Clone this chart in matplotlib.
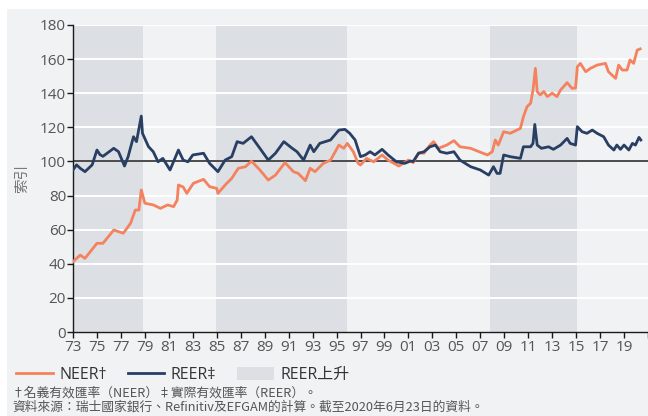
import matplotlib
matplotlib.use("Agg")
import matplotlib.pyplot as plt
from matplotlib.patches import Rectangle, Patch
from matplotlib.lines import Line2D
import numpy as np

neer_t = [1973.0, 1973.6, 1974.0, 1975.0, 1975.5, 1976.4, 1977.2, 1977.8, 1978.2, 1978.5, 1978.7, 1979.0,
          1979.7, 1980.3, 1980.9, 1981.4, 1981.7, 1981.8, 1982.2, 1982.5, 1983.05, 1983.9, 1984.4, 1985.0,
          1985.1, 1985.7, 1986.25, 1986.8, 1987.4, 1987.9, 1988.6, 1989.3, 1989.9, 1990.7, 1991.4, 1991.8,
          1992.4, 1992.8, 1993.2, 1993.9, 1994.5, 1995.2, 1995.6, 1995.9, 1996.4, 1996.8, 1997.0, 1997.5,
          1998.1, 1998.8, 1999.3, 2000.2, 2001.0, 2001.4, 2001.85, 2002.3, 2002.8, 2003.1, 2003.5, 2004.2,
          2004.8, 2005.3, 2006.2, 2006.9, 2007.6, 2008.0, 2008.25, 2008.5, 2008.95, 2009.5, 2010.35, 2010.6,
          2010.9, 2011.2, 2011.4, 2011.6, 2011.75, 2012.0, 2012.3, 2012.6, 2013.0, 2013.4, 2013.7, 2014.25,
          2014.65, 2014.95, 2015.1, 2015.35, 2015.8, 2016.2, 2016.75, 2017.45, 2017.7, 2018.0, 2018.3, 2018.55,
          2018.85, 2019.25, 2019.5, 2019.8, 2020.1, 2020.35]
neer_v = [41.2, 45.1, 43.2, 52.0, 52.0, 59.8, 57.9, 63.7, 71.5, 71.5, 83.3, 75.5,
          74.5, 72.5, 74.5, 73.5, 77.4, 86.2, 85.0, 81.3, 87.2, 89.5, 85.2, 84.2,
          81.3, 86.2, 90.1, 96.0, 96.9, 100.2, 95.0, 89.1, 92.0, 99.3, 94.0, 93.0,
          88.7, 96.0, 94.0, 98.9, 100.8, 109.6, 107.7, 110.6, 105.7, 98.9, 97.9, 101.8,
          99.8, 103.8, 100.8, 97.3, 100.8, 99.3, 105.1, 104.8, 109.6, 111.6, 107.7, 109.6,
          112.2, 108.6, 107.7, 105.7, 103.8, 105.7, 112.6, 109.6, 117.4, 116.5, 119.4, 126.2,
          132.1, 134.1, 141.9, 154.6, 140.9, 139.0, 141.0, 138.0, 140.0, 138.0, 141.9, 146.2,
          142.9, 143.0, 155.5, 157.5, 152.6, 154.6, 156.5, 157.5, 152.6, 150.6, 148.7, 156.5,
          153.6, 153.6, 159.5, 157.5, 165.3, 166.0]

reer_t = [1973.0, 1973.3, 1973.6, 1974.0, 1974.6, 1975.0, 1975.25, 1975.5, 1976.4, 1976.8, 1977.3, 1977.6,
          1978.05, 1978.3, 1978.7, 1978.8, 1979.3, 1979.7, 1980.1, 1980.5, 1981.1, 1981.8, 1982.2, 1982.6,
          1983.0, 1983.9, 1984.4, 1985.1, 1985.7, 1986.25, 1986.7, 1987.2, 1987.9, 1988.6, 1989.3, 1989.9,
          1990.6, 1991.3, 1991.7, 1992.25, 1992.8, 1993.1, 1993.6, 1994.5, 1995.2, 1995.7, 1996.1, 1996.55,
          1997.0, 1997.4, 1997.8, 1998.2, 1998.8, 1999.3, 2000.0, 2000.7, 2001.15, 2001.4, 2001.85, 2002.3,
          2002.8, 2003.25, 2003.65, 2004.2, 2004.8, 2005.3, 2006.2, 2007.0, 2007.7, 2008.1, 2008.4, 2008.65,
          2008.95, 2009.5, 2010.35, 2010.6, 2011.2, 2011.4, 2011.55, 2011.75, 2012.1, 2012.7, 2013.1, 2013.7,
          2014.25, 2014.5, 2014.95, 2015.1, 2015.5, 2015.9, 2016.35, 2016.75, 2017.3, 2017.7, 2018.15, 2018.4,
          2018.7, 2019.0, 2019.4, 2019.7, 2019.95, 2020.25, 2020.4]
reer_v = [95.0, 98.0, 96.0, 94.0, 98.0, 106.7, 104.0, 103.0, 107.7, 105.7, 97.3, 102.8,
          114.5, 111.6, 126.6, 116.5, 108.7, 105.7, 99.8, 101.8, 95.0, 106.7, 100.8, 99.8,
          103.8, 104.8, 98.9, 94.0, 100.8, 102.8, 111.6, 110.6, 114.5, 107.7, 100.8, 104.8,
          111.6, 107.7, 105.7, 100.8, 109.6, 105.7, 110.6, 112.6, 118.4, 118.8, 116.5, 112.6,
          102.8, 103.8, 105.7, 103.8, 107.1, 103.8, 99.8, 98.9, 100.2, 100.0, 104.8, 105.7,
          108.6, 109.6, 105.7, 104.8, 105.7, 100.8, 96.9, 95.0, 92.0, 96.9, 93.0, 93.0,
          103.8, 102.8, 101.8, 108.6, 108.6, 110.6, 121.7, 109.6, 107.7, 108.6, 107.1, 109.6,
          113.5, 110.6, 109.6, 120.4, 117.4, 116.5, 118.4, 116.5, 114.5, 109.6, 106.7, 109.6,
          107.1, 109.6, 106.7, 110.6, 109.6, 114.1, 112.6]

shade_periods = [(1973.0, 1978.85), (1984.95, 1995.9), (2007.8, 2015.1)]
years = list(range(1973, 2022, 2))
tick_labels = [f"{y % 100:02d}" for y in years[:-1]] + [""]

NEER_C = "#f4825e"
REER_C = "#283f63"
BG = "#f0f2f4"
SHADE = "#dce0e4"

plt.rcParams['font.family'] = ['Open Sans', 'Noto Sans CJK TC', 'DejaVu Sans']
cjk = ['Noto Sans CJK TC', 'DejaVu Sans']

fig = plt.figure(figsize=(6.48, 4.16), dpi=100)
fig.patch.set_facecolor("white")
fig.patches.append(Rectangle((7/648, 0), 641/648, 1 - 9/416, transform=fig.transFigure,
                             facecolor=BG, edgecolor="none", zorder=-10))

ax = fig.add_axes([73/648, 1 - 332/416, 575/648, 307/416])
ax.set_facecolor(BG)
for a, b in shade_periods:
    ax.axvspan(a, b, color=SHADE, lw=0, zorder=0)
for yv in range(20, 181, 20):
    ax.axhline(yv, color="white", lw=1.4, zorder=1)
ax.axhline(100, color="#1a1a1a", lw=1.1, zorder=2)

ax.plot(neer_t, neer_v, color=NEER_C, lw=2.0, zorder=3)
ax.plot(reer_t, reer_v, color=REER_C, lw=2.0, zorder=4)

ax.set_xlim(1973, 2021)
ax.set_ylim(0, 180)
ax.set_yticks(range(0, 181, 20))
ax.set_xticks(years)
ax.set_xticklabels(tick_labels)
for s in ["top", "right"]:
    ax.spines[s].set_visible(False)
for s in ["left", "bottom"]:
    ax.spines[s].set_color("#1a1a1a")
    ax.spines[s].set_linewidth(1.0)
ax.tick_params(axis="both", direction="out", length=4, width=1, color="#1a1a1a",
               labelcolor="#555555", labelsize=11, pad=1)
ax.tick_params(axis="x", pad=2)

ax.set_ylabel("索引", family=cjk, color="#777777", fontsize=10.5, labelpad=8)

handles = [Line2D([], [], color=NEER_C, lw=2), Line2D([], [], color=REER_C, lw=2),
           Patch(facecolor=SHADE, edgecolor="none")]
fig.legend(handles, ["NEER†", "REER‡", "REER上升"], loc="center left",
           bbox_to_anchor=(16/648, 1 - 375/416), ncol=3, frameon=False,
           borderpad=0, borderaxespad=0,
           prop={'family': ['Open Sans', 'Noto Sans CJK TC'], 'size': 11.5},
           handlelength=2.3, handleheight=0.8, columnspacing=1.3, handletextpad=0.4,
           labelcolor="#333333")

fig.text(12/648, 1 - 393/416, "†名義有效匯率（NEER）‡實際有效匯率（REER）。", family=cjk,
         fontsize=9.2, color="#555555", va="center")
fig.text(12/648, 1 - 407.5/416, "資料來源：瑞士國家銀行、Refinitiv及EFGAM的計算。截至2020年6月23日的資料。",
         family=cjk, fontsize=9.2, color="#555555", va="center")

fig.savefig("out.png", dpi=100, facecolor=fig.get_facecolor())
